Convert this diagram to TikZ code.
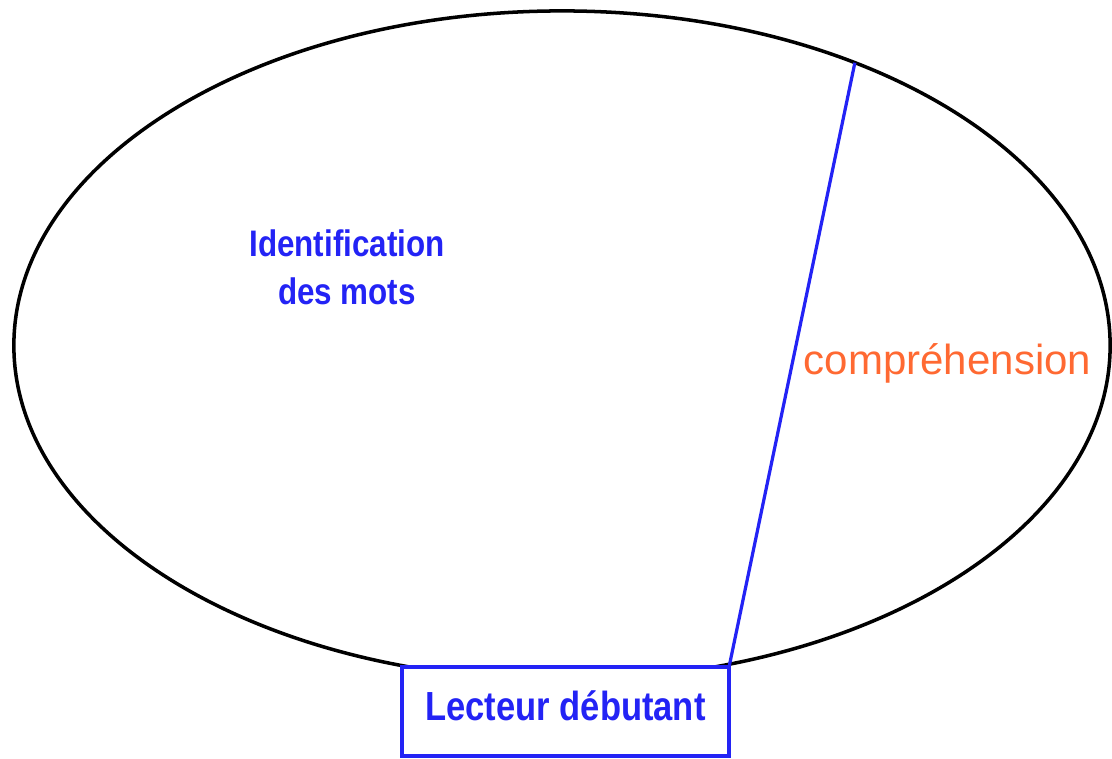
\documentclass[tikz,border=0pt]{standalone}
\usepackage{fontspec}
\setmainfont{Liberation Sans}
\newfontfamily\narrowfont[FakeStretch=0.85]{Liberation Sans}
\usepackage{tikz}
\usetikzlibrary{shapes.geometric,positioning}
\definecolor{lblue}{RGB}{35,35,245}
\definecolor{lorange}{RGB}{255,105,50}

\begin{document}
\begin{tikzpicture}[x=0.025cm,y=-0.025cm,line width=2.3pt,
            zone/.style={ellipse,draw=black,line width=2.5pt,inner sep=0pt,outer sep=0pt,
              minimum width=27.4cm,minimum height=16.725cm},
            readerbox/.style={draw=lblue,fill=white,inner sep=0pt,outer sep=0pt,
              minimum width=8.175cm,text height=1.325cm,text depth=0.9cm,
              text=lblue,font=\narrowfont\bfseries\fontsize{28.9}{34}\selectfont},
            bluelabel/.style={text=lblue,align=center,inner sep=0pt,
              font=\narrowfont\bfseries\fontsize{26.25}{34.1}\selectfont},
            orangelabel/.style={text=lorange,inner sep=0pt,
              font=\fontsize{29.9}{36}\selectfont}]

      \useasboundingbox (0,0) rectangle (1112,758);

      \node[zone] (reading) at (562,345.5) {};
      \node[readerbox,anchor=north] (reader) at (565.5,667) {Lecteur débutant};

      \node[bluelabel] (ident) at (347,267.5) {Identification\\des mots};
      \node[orangelabel,anchor=base] (compr) at (947.5,374) {compréhension};

      \draw[lblue] (reading.44.6) -- (reader.north east);

\end{tikzpicture}
\end{document}
